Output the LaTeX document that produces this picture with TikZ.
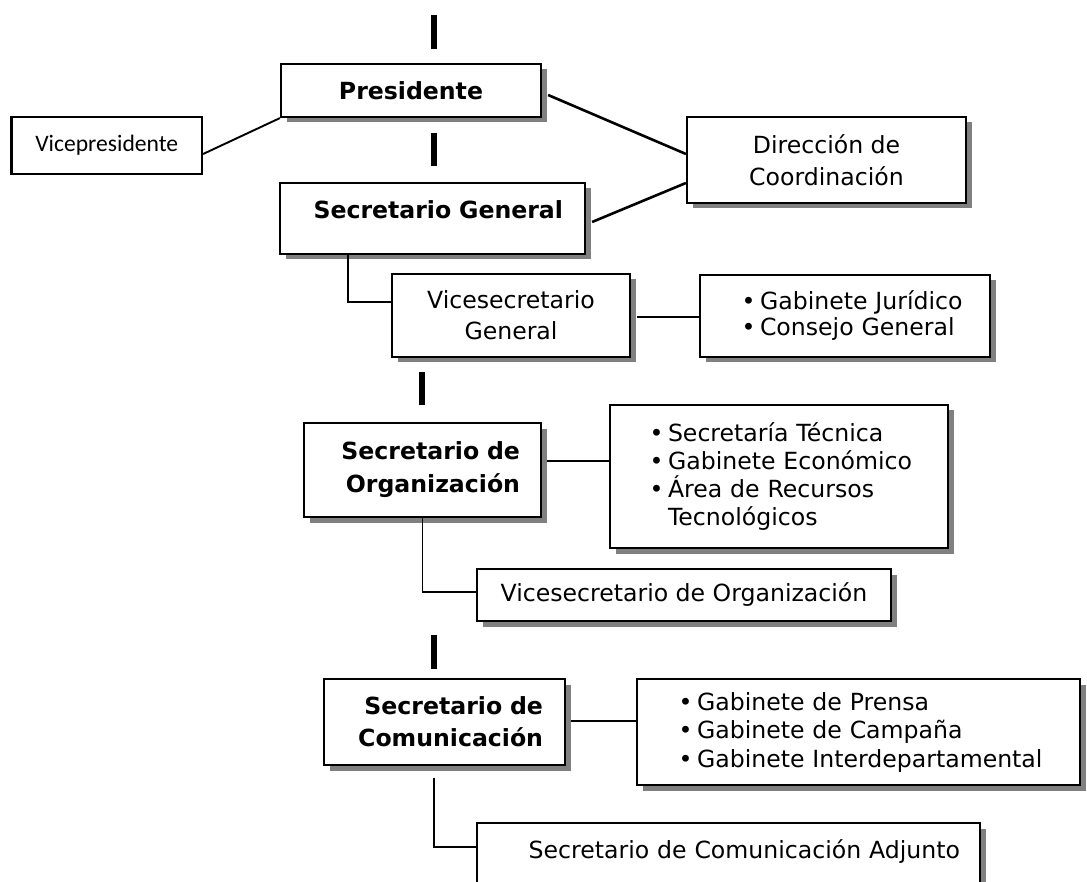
\documentclass[tikz,border=0pt]{standalone}
\usepackage{fontspec}
\setmainfont{DejaVu Sans}
\newfontfamily\calib{Carlito}
\usetikzlibrary{shadows}
\newcommand\bl[1]{\hspace*{#1}\makebox[15pt][l]{\kern-3.5pt\textbullet}}
\begin{document}
\begin{tikzpicture}[x=1pt,y=-1pt,
  box/.style={draw=black, line width=2.2pt, fill=white, rectangle, inner sep=0pt,
    font=\fontsize{23.6}{32}\selectfont},
  sbox/.style={box, drop shadow={shadow xshift=5.5pt, shadow yshift=-5.5pt, fill=black!50, opacity=1}},
  conn/.style={line width=2.6pt},
  thinconn/.style={line width=1.9pt},
  tickmark/.style={line width=6pt},
]
\useasboundingbox (0,0) rectangle (1087,882);
\clip (0,0) rectangle (1087,882);

% boxes
\node[sbox, minimum width=260pt, minimum height=53pt,
  font=\fontsize{23.6}{32}\selectfont\bfseries] (pres) at (411,90.5) {Presidente};
\node[box, minimum width=190.5pt, minimum height=57pt,
  font=\fontsize{23.6}{28}\selectfont\calib] (vicep) at (106.75,145.5) {Vicepresidente};
\node[sbox, minimum width=305pt, minimum height=71pt, text width=261pt, align=right,
  text height=18pt, text depth=18pt,
  font=\fontsize{23.6}{32}\selectfont\bfseries] (secgen) at (432.5,218.5) {Secretario General};
\node[sbox, minimum width=279pt, minimum height=86pt, align=center] (dir) at (826.5,160)
  {Dirección de\\Coordinación};
\node[sbox, minimum width=238pt, minimum height=83pt, align=center,
  font=\fontsize{23.6}{31}\selectfont] (vsg) at (511,315.5) {Vicesecretario\\General};
\node[sbox, minimum width=290pt, minimum height=82pt, text width=280pt, align=left,
  font=\fontsize{23.6}{26}\selectfont] (gj) at (845,316)
  {\bl{40pt}Gabinete Jurídico\\\bl{40pt}Consejo General};
\node[sbox, minimum width=237pt, minimum height=94pt, text width=195pt, align=right,
  font=\fontsize{23.6}{33}\selectfont\bfseries] (secorg) at (422.5,470)
  {Secretario de\\Organización};
\node[sbox, minimum width=338pt, minimum height=143pt, text width=328pt, align=left,
  font=\fontsize{23.6}{28.3}\selectfont] (st) at (779,476.5)
  {\bl{38pt}Secretaría Técnica\\\bl{38pt}Gabinete Económico\\\bl{38pt}Área de Recursos\\\hspace*{53pt}Tecnológicos};
\node[sbox, minimum width=414pt, minimum height=52pt] (vso) at (684,595)
  {Vicesecretario de Organización};
\node[sbox, minimum width=241pt, minimum height=86pt, text width=197pt, align=right,
  font=\fontsize{23.6}{32}\selectfont\bfseries] (secom) at (444.5,722)
  {Secretario de\\Comunicación};
\node[sbox, minimum width=443pt, minimum height=106pt, text width=433pt, align=left,
  font=\fontsize{23.6}{28.5}\selectfont] (gp) at (858.5,732)
  {\bl{40pt}Gabinete de Prensa\\\bl{40pt}Gabinete de Campaña\\\bl{40pt}Gabinete Interdepartamental};
\node[sbox, minimum width=503pt, minimum height=77pt, text width=463pt, align=right,
  text height=18pt, text depth=24pt] (scad) at (728.5,861.5)
  {Secretario de Comunicación Adjunto};

% free-standing tick marks
\draw[tickmark] (434,15) -- (434,49);
\draw[tickmark] (434,133) -- (434,166);
\draw[tickmark] (422,372) -- (422,405);
\draw[tickmark] (434,635) -- (434,669);

% connectors
\draw[thinconn] ([yshift=-8.5pt]vicep.east) -- (pres.south west);
\draw[conn] ([xshift=6pt,yshift=-4.5pt]pres.east) -- ([yshift=6pt]dir.west);
\draw[conn] ([xshift=6pt,yshift=-3.5pt]secgen.east) -- ([yshift=-23pt]dir.west);
\draw[thinconn] ([xshift=-84.5pt]secgen.south) |- ([yshift=13.5pt]vsg.west);
\coordinate (c1) at ([xshift=6pt,yshift=-1.5pt]vsg.east);
\draw[conn] (c1) -- (c1 -| gj.west);
\coordinate (c2) at ([xshift=5pt,yshift=9pt]secorg.east);
\draw[conn] (c2) -- (c2 -| st.west);
\draw[thinconn] (secorg.south) |- ([yshift=3pt]vso.west);
\coordinate (c3) at ([xshift=5pt,yshift=1pt]secom.east);
\draw[conn] (c3) -- (c3 -| gp.west);
\draw[thinconn] ([xshift=-10.5pt,yshift=-12pt]secom.south) |- ([yshift=14.5pt]scad.west);
\end{tikzpicture}
\end{document}
